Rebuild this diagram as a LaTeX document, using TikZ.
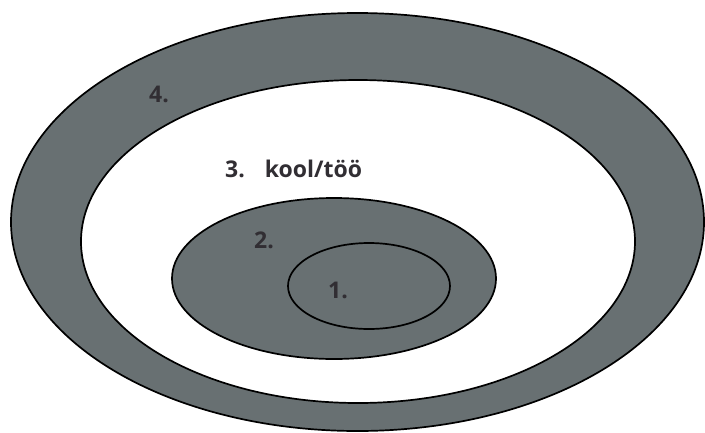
\documentclass[tikz,border=0pt]{standalone}
\usepackage{fontspec}
\setmainfont{Open Sans}
\usetikzlibrary{shapes.geometric}
\definecolor{ringgray}{HTML}{687072}
\definecolor{labeltext}{HTML}{312E33}
\tikzset{
  ring/.style={ellipse, draw=black, line width=1.7pt, inner sep=0pt},
  lbl/.style={anchor=base west, inner sep=0pt, text=labeltext, font=\fontsize{23}{27}\selectfont\bfseries}
}
\begin{document}
\begin{tikzpicture}[x=1pt,y=-1pt]
\useasboundingbox (0,0) rectangle (705,432);
\node[ring, fill=ringgray, minimum width=693pt, minimum height=418pt] (r4) at (357.5,222) {};
\node[ring, fill=white, minimum width=554pt, minimum height=323pt] (r3) at (358,241.5) {};
\node[ring, fill=ringgray, minimum width=324pt, minimum height=161pt] (r2) at (334,278.5) {};
\node[ring, fill=ringgray, minimum width=162pt, minimum height=86pt] (r1) at (369,286) {};
\node[lbl] (t4) at (149,102) {4.};
\node[lbl] (t3) at (225,177) {3.\hspace{20pt}kool/töö};
\node[lbl] (t2) at (254,248) {2.};
\node[lbl] (t1) at (328,298) {1.};
\end{tikzpicture}
\end{document}
